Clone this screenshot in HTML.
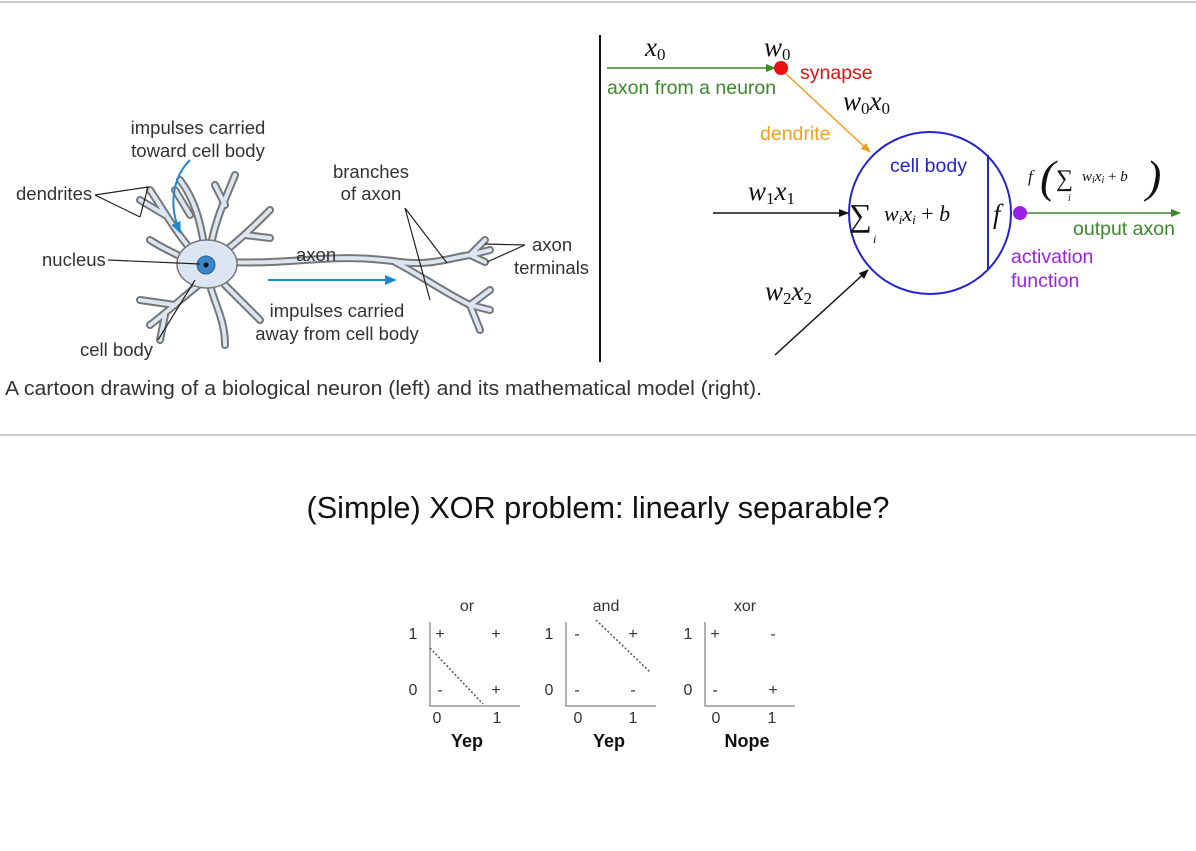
<!DOCTYPE html>
<html><head><meta charset="utf-8"><style>
html,body{margin:0;padding:0;background:#fff;width:1196px;height:851px;overflow:hidden}
svg{display:block}
text{font-family:"Liberation Sans",sans-serif}
text.m,.m text{font-family:"Liberation Serif",serif;font-style:italic}
</style></head><body>
<svg width="1196" height="851" viewBox="0 0 1196 851">
<defs>
<marker id="ab" markerWidth="10" markerHeight="8" refX="9" refY="4" orient="auto" markerUnits="userSpaceOnUse"><path d="M0,0L10,4L0,8z" fill="#111"/></marker>
<marker id="ag" markerWidth="10" markerHeight="8" refX="9" refY="4" orient="auto" markerUnits="userSpaceOnUse"><path d="M0,0L10,4L0,8z" fill="#3a8a2a"/></marker>
<marker id="ao" markerWidth="10" markerHeight="8" refX="9" refY="4" orient="auto" markerUnits="userSpaceOnUse"><path d="M0,0L10,4L0,8z" fill="#f0a020"/></marker>
<marker id="abl" markerWidth="12" markerHeight="10" refX="10" refY="5" orient="auto" markerUnits="userSpaceOnUse"><path d="M0,0L12,5L0,10z" fill="#1f88d0"/></marker>
</defs>
<line x1="0" y1="2" x2="1196" y2="2" stroke="#999" stroke-width="1"/>
<line x1="0" y1="435" x2="1196" y2="435" stroke="#999" stroke-width="1"/>
<line x1="600" y1="35" x2="600" y2="362" stroke="#111" stroke-width="2"/>

<!-- neuron -->
<g fill="none" stroke-linecap="round" stroke-linejoin="round">
<g stroke="#777" stroke-width="8">
<path d="M205,265 C180,240 170,220 150,190 M165,215 L140,200 M205,250 C200,220 195,200 180,180 M190,215 L175,190 M210,250 C215,220 225,200 235,175 M225,205 L215,185 M220,255 C240,240 255,225 270,210 M245,235 L270,238 M205,280 C185,295 170,310 150,325 M175,305 L140,300 M165,315 L160,340 M210,285 C215,305 225,320 225,345 M225,285 C240,300 250,310 260,320 M195,265 C180,255 165,250 150,240"/>
<path d="M225,262 C300,265 330,252 400,262 C430,266 450,258 470,255 M395,262 C420,275 440,290 470,305 M470,255 L485,240 M470,255 L490,250 M470,255 L485,262 M470,305 L490,290 M470,305 L490,310 M470,305 L480,330"/>
</g>
<g stroke="#dce6f2" stroke-width="4">
<path d="M205,265 C180,240 170,220 150,190 M165,215 L140,200 M205,250 C200,220 195,200 180,180 M190,215 L175,190 M210,250 C215,220 225,200 235,175 M225,205 L215,185 M220,255 C240,240 255,225 270,210 M245,235 L270,238 M205,280 C185,295 170,310 150,325 M175,305 L140,300 M165,315 L160,340 M210,285 C215,305 225,320 225,345 M225,285 C240,300 250,310 260,320 M195,265 C180,255 165,250 150,240"/>
<path d="M225,262 C300,265 330,252 400,262 C430,266 450,258 470,255 M395,262 C420,275 440,290 470,305 M470,255 L485,240 M470,255 L490,250 M470,255 L485,262 M470,305 L490,290 M470,305 L490,310 M470,305 L480,330"/>
</g>
</g>
<ellipse cx="207" cy="264" rx="30" ry="24" fill="#dce6f2" stroke="#777" stroke-width="1.5"/>
<circle cx="206" cy="265" r="9" fill="#3a86c8" stroke="#2a5f9a"/>
<circle cx="206" cy="265" r="2.5" fill="#111"/>
<path d="M190,160 C170,180 170,210 180,232" fill="none" stroke="#1f88d0" stroke-width="2" marker-end="url(#abl)"/>
<line x1="268" y1="280" x2="395" y2="280" stroke="#1f88d0" stroke-width="2" marker-end="url(#abl)"/>
<g stroke="#222" stroke-width="1.2" fill="none">
<path d="M95,195 L148,187 L140,217 M95,195 L140,217"/>
<path d="M108,260 L200,264"/>
<path d="M158,340 L195,280"/>
<path d="M405,208 L447,263 M405,208 L430,300"/>
<path d="M525,245 L485,244 M525,245 L487,262"/>
</g>
<g font-size="18.5" fill="#333">
<text x="198" y="134" text-anchor="middle">impulses carried</text>
<text x="198" y="157" text-anchor="middle">toward cell body</text>
<text x="16" y="200">dendrites</text>
<text x="371" y="178" text-anchor="middle">branches</text>
<text x="371" y="200" text-anchor="middle">of axon</text>
<text x="42" y="266">nucleus</text>
<text x="296" y="261">axon</text>
<text x="532" y="251">axon</text>
<text x="514" y="274">terminals</text>
<text x="337" y="317" text-anchor="middle">impulses carried</text>
<text x="337" y="340" text-anchor="middle">away from cell body</text>
<text x="80" y="356">cell body</text>
</g>
<text x="5" y="395" font-size="20" fill="#333" textLength="757" lengthAdjust="spacingAndGlyphs">A cartoon drawing of a biological neuron (left) and its mathematical model (right).</text>

<!-- model -->
<line x1="607" y1="68" x2="775" y2="68" stroke="#3a8a2a" stroke-width="1.5" marker-end="url(#ag)"/>
<line x1="784" y1="72" x2="870" y2="152" stroke="#f0a020" stroke-width="1.5" marker-end="url(#ao)"/>
<circle cx="781" cy="68" r="7" fill="#e81010"/>
<line x1="713" y1="213" x2="848" y2="213" stroke="#111" stroke-width="1.5" marker-end="url(#ab)"/>
<line x1="775" y1="355" x2="868" y2="270" stroke="#111" stroke-width="1.5" marker-end="url(#ab)"/>
<circle cx="930" cy="213" r="81" fill="none" stroke="#2323d0" stroke-width="2"/>
<line x1="988" y1="155" x2="988" y2="270" stroke="#2323d0" stroke-width="2"/>
<line x1="1020" y1="213" x2="1180" y2="213" stroke="#3a8a2a" stroke-width="1.5" marker-end="url(#ag)"/>
<circle cx="1020" cy="213" r="7" fill="#9a20e8"/>
<g class="m" font-size="27" fill="#111">
<text x="645" y="56">x<tspan font-size="17" dy="4" font-style="normal">0</tspan></text>
<text x="764" y="56">w<tspan font-size="17" dy="4" font-style="normal">0</tspan></text>
<text x="843" y="110">w<tspan font-size="17" dy="4" font-style="normal">0</tspan><tspan dy="-4">x</tspan><tspan font-size="17" dy="4" font-style="normal">0</tspan></text>
<text x="748" y="200">w<tspan font-size="17" dy="4" font-style="normal">1</tspan><tspan dy="-4">x</tspan><tspan font-size="17" dy="4" font-style="normal">1</tspan></text>
<text x="765" y="300">w<tspan font-size="17" dy="4" font-style="normal">2</tspan><tspan dy="-4">x</tspan><tspan font-size="17" dy="4" font-style="normal">2</tspan></text>
<text x="993" y="223">f</text>
</g>
<g class="m" fill="#111">
<text x="849" y="226" font-size="32" font-style="normal">∑</text>
<text x="873" y="243" font-size="12">i</text>
<text x="884" y="221" font-size="22">w<tspan font-size="13" dy="3">i</tspan><tspan dy="-3">x</tspan><tspan font-size="13" dy="3">i</tspan><tspan dy="-3" font-style="normal"> + </tspan>b</text>
<text x="1028" y="182" font-size="17">f</text>
<text x="1040" y="192" font-size="46" font-style="normal">(</text>
<text x="1056" y="186" font-size="24" font-style="normal">∑</text>
<text x="1068" y="201" font-size="10">i</text>
<text x="1082" y="181" font-size="15">w<tspan font-size="10" dy="2">i</tspan><tspan dy="-2">x</tspan><tspan font-size="10" dy="2">i</tspan><tspan dy="-2" font-style="normal"> + </tspan>b</text>
<text x="1146" y="192" font-size="46" font-style="normal">)</text>
</g>
<g font-size="19.5">
<text x="800" y="79" fill="#e81010">synapse</text>
<text x="607" y="94" fill="#3a8a2a">axon from a neuron</text>
<text x="760" y="140" fill="#f0a020">dendrite</text>
<text x="890" y="172" fill="#2323d0">cell body</text>
<text x="1073" y="235" fill="#3a8a2a">output axon</text>
<text x="1011" y="263" fill="#9a20e8">activation</text>
<text x="1011" y="287" fill="#9a20e8">function</text>
</g>

<text x="598" y="518" text-anchor="middle" font-size="31" fill="#111" textLength="583" lengthAdjust="spacingAndGlyphs">(Simple) XOR problem: linearly separable?</text>

<!-- plots -->
<g stroke="#999" stroke-width="1.5" fill="none">
<path d="M430,622 V706 H520"/>
<path d="M566,622 V706 H656"/>
<path d="M705,622 V706 H795"/>
</g>
<g stroke="#555" stroke-width="1.5" stroke-dasharray="2,2" fill="none">
<line x1="430" y1="648" x2="483" y2="704"/>
<line x1="596" y1="620" x2="650" y2="672"/>
</g>
<g font-size="16" fill="#333" text-anchor="middle">
<text x="467" y="611">or</text><text x="606" y="611">and</text><text x="745" y="611">xor</text>
<text x="413" y="639">1</text><text x="413" y="695">0</text>
<text x="549" y="639">1</text><text x="549" y="695">0</text>
<text x="688" y="639">1</text><text x="688" y="695">0</text>
<text x="437" y="723">0</text><text x="497" y="723">1</text>
<text x="578" y="723">0</text><text x="633" y="723">1</text>
<text x="716" y="723">0</text><text x="772" y="723">1</text>
<text x="440" y="639">+</text><text x="496" y="639">+</text><text x="440" y="695">-</text><text x="496" y="695">+</text>
<text x="577" y="639">-</text><text x="633" y="639">+</text><text x="577" y="695">-</text><text x="633" y="695">-</text>
<text x="715" y="639">+</text><text x="773" y="639">-</text><text x="715" y="695">-</text><text x="773" y="695">+</text>
</g>
<g font-size="18" font-weight="bold" fill="#111" text-anchor="middle">
<text x="467" y="747">Yep</text><text x="609" y="747">Yep</text><text x="747" y="747">Nope</text>
</g>
</svg>
</body></html>
